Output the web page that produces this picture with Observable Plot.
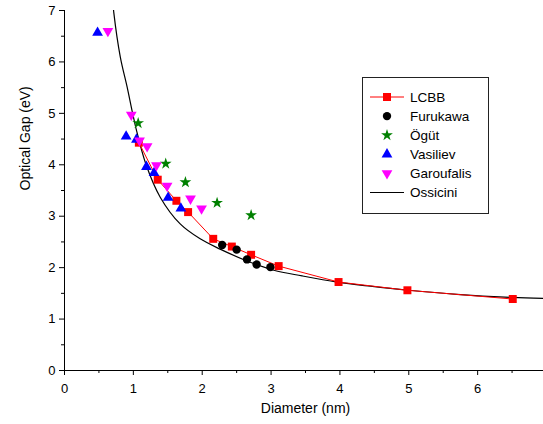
<!DOCTYPE html>
<html><head><meta charset="utf-8">
<script src="https://cdn.jsdelivr.net/npm/d3@7"></script>
<script src="https://cdn.jsdelivr.net/npm/@observablehq/plot@0.6"></script>
<style>body{margin:0;background:#fff} #chart svg{display:block}</style>
</head><body><div id="chart"></div>
<script>
// LCBB (red squares + line)
const lcbbD = [1.08, 1.354, 1.625, 1.795, 2.16, 2.43, 2.71, 3.11, 3.98, 4.98, 6.51];
const lcbbE = [4.43, 3.71, 3.30, 3.08, 2.56, 2.41, 2.25, 2.03, 1.72, 1.56, 1.39];
// Furukawa (black circles)
const furD = [2.29, 2.50, 2.65, 2.79, 2.99];
const furE = [2.44, 2.35, 2.16, 2.06, 2.01];
// Ögüt (green stars)
const ogutD = [1.07, 1.47, 1.756, 2.216, 2.71];
const ogutE = [4.81, 4.02, 3.66, 3.26, 3.02];
// Vasiliev (blue up triangles)
const vasD = [0.48, 0.895, 1.045, 1.19, 1.30, 1.505, 1.69];
const vasE = [6.57, 4.55, 4.49, 3.96, 3.84, 3.36, 3.15];
// Garoufalis (magenta down triangles)
const garD = [0.63, 0.97, 1.09, 1.20, 1.335, 1.49, 1.83, 1.99];
const garE = [6.60, 4.97, 4.47, 4.36, 3.99, 3.59, 3.34, 3.15];
// Ossicini (black curve)
const ossD = [0.70, 0.716, 0.81, 0.91, 0.98, 1.04, 1.18, 1.39, 1.68, 1.97, 2.26, 2.65, 3.04, 3.45, 3.96, 4.44, 5.0, 5.70, 6.5, 7.0];
const ossE = [7.2, 6.96, 6.10, 5.51, 5.06, 4.70, 4.02, 3.37, 2.85, 2.56, 2.36, 2.13, 1.95, 1.84, 1.72, 1.64, 1.56, 1.48, 1.42, 1.40];

const xTicks = [0, 1, 2, 3, 4, 5, 6];
const yTicks = [0, 1, 2, 3, 4, 5, 6, 7];
const xMinor = [0.5, 1.5, 2.5, 3.5, 4.5, 5.5, 6.5];
const yMinor = [0.5, 1.5, 2.5, 3.5, 4.5, 5.5, 6.5];

const legendItems = [
  {name: "LCBB", symbol: "square", color: "#ff0000", line: "#ff0000"},
  {name: "Furukawa", symbol: "circle", color: "#000000"},
  {name: "Ögüt", symbol: "star", color: "#008000"},
  {name: "Vasiliev", symbol: "triangle", color: "#0000ff"},
  {name: "Garoufalis", symbol: "triangle", color: "#ff00ff", rotate: 180},
  {name: "Ossicini", line: "#000000"}
];

const pts = (xs, ys) => xs.map((x, i) => ({x, y: ys[i]}));
const lcbb = pts(lcbbD, lcbbE), fur = pts(furD, furE), ogut = pts(ogutD, ogutE),
      vas = pts(vasD, vasE), gar = pts(garD, garE), oss = pts(ossD, ossE);

const chart = Plot.plot({
  width: 543, height: 424,
  marginLeft: 64, marginRight: -3, marginTop: 10, marginBottom: 54,
  style: {fontFamily: "'Liberation Sans', Arial, sans-serif", fontSize: "13px", background: "#fff", color: "#000"},
  x: {domain: [0, 7], label: null},
  y: {domain: [0, 7], label: null},
  marks: [
    Plot.axisX(xTicks, {tickSize: 5, tickPadding: 8, fontSize: 13, tickFormat: "d", label: null}),
    Plot.axisX(xMinor, {tickSize: 3, tickFormat: () => "", label: null}),
    Plot.axisY(yTicks, {tickSize: 5, tickPadding: 4, fontSize: 13, tickFormat: "d", label: null}),
    Plot.axisY(yMinor, {tickSize: 3, tickFormat: () => "", label: null}),
    Plot.line(oss, {x: "x", y: "y", stroke: "#000", strokeWidth: 1.2, curve: "catmull-rom", clip: true}),
    Plot.line(lcbb, {x: "x", y: "y", stroke: "#ff0000", strokeWidth: 1}),
    Plot.dot(lcbb, {x: "x", y: "y", symbol: "square", r: 4.5, fill: "#ff0000", stroke: "none"}),
    Plot.dot(fur, {x: "x", y: "y", symbol: "circle", r: 4.2, fill: "#000", stroke: "none"}),
    Plot.dot(ogut, {x: "x", y: "y", symbol: "star", r: 3.7, fill: "#008000", stroke: "none"}),
    Plot.dot(vas, {x: "x", y: "y", symbol: "triangle", r: 4.0, fill: "#0000ff", stroke: "none"}),
    Plot.dot(gar, {x: "x", y: "y", symbol: "triangle", r: 4.0, rotate: 180, fill: "#ff00ff", stroke: "none"}),
    Plot.ruleX([0], {y1: 0, y2: 7, stroke: "#000", strokeWidth: 1}),
    Plot.ruleY([0], {x1: 0, x2: 7, stroke: "#000", strokeWidth: 1}),
    Plot.text(["Diameter (nm)"], {frameAnchor: "bottom", dy: 42, fontSize: 14}),
    Plot.text(["Optical Gap (eV)"], {frameAnchor: "left", dx: -39, rotate: -90, fontSize: 14})
  ]
});
document.getElementById("chart").appendChild(chart);

// Legend box drawn into the same SVG
const svg = d3.select(chart);
const lg = svg.append("g").attr("font-family", "'Liberation Sans', Arial, sans-serif")
  .attr("font-size", 13.5).attr("text-anchor", "start");
lg.append("rect").attr("x", 362.5).attr("y", 77.5).attr("width", 126).attr("height", 136)
  .attr("fill", "#fff").attr("stroke", "#222").attr("stroke-width", 1);
const symMap = {square: d3.symbolSquare, circle: d3.symbolCircle, star: d3.symbolStar, triangle: d3.symbolTriangle};
const rMap = {square: 4.5, circle: 4.2, star: 3.7, triangle: 4.0};
legendItems.forEach((d, i) => {
  const cy = 97 + i * 19.1;
  const g = lg.append("g").attr("transform", `translate(0,${cy})`);
  if (d.line) g.append("line").attr("x1", 370).attr("x2", 404).attr("y1", 0).attr("y2", 0)
    .attr("stroke", d.line).attr("stroke-width", d.name === "LCBB" ? 1 : 1.2);
  if (d.symbol) {
    const r = rMap[d.symbol];
    g.append("path").attr("d", d3.symbol(symMap[d.symbol], Math.PI * r * r)())
      .attr("transform", `translate(387,0) rotate(${d.rotate || 0})`).attr("fill", d.color).attr("stroke", "none");
  }
  g.append("text").attr("x", 410).attr("y", 0).attr("dy", "0.35em").attr("text-anchor", "start").attr("fill", "#000").text(d.name);
});
</script>
</body></html>
